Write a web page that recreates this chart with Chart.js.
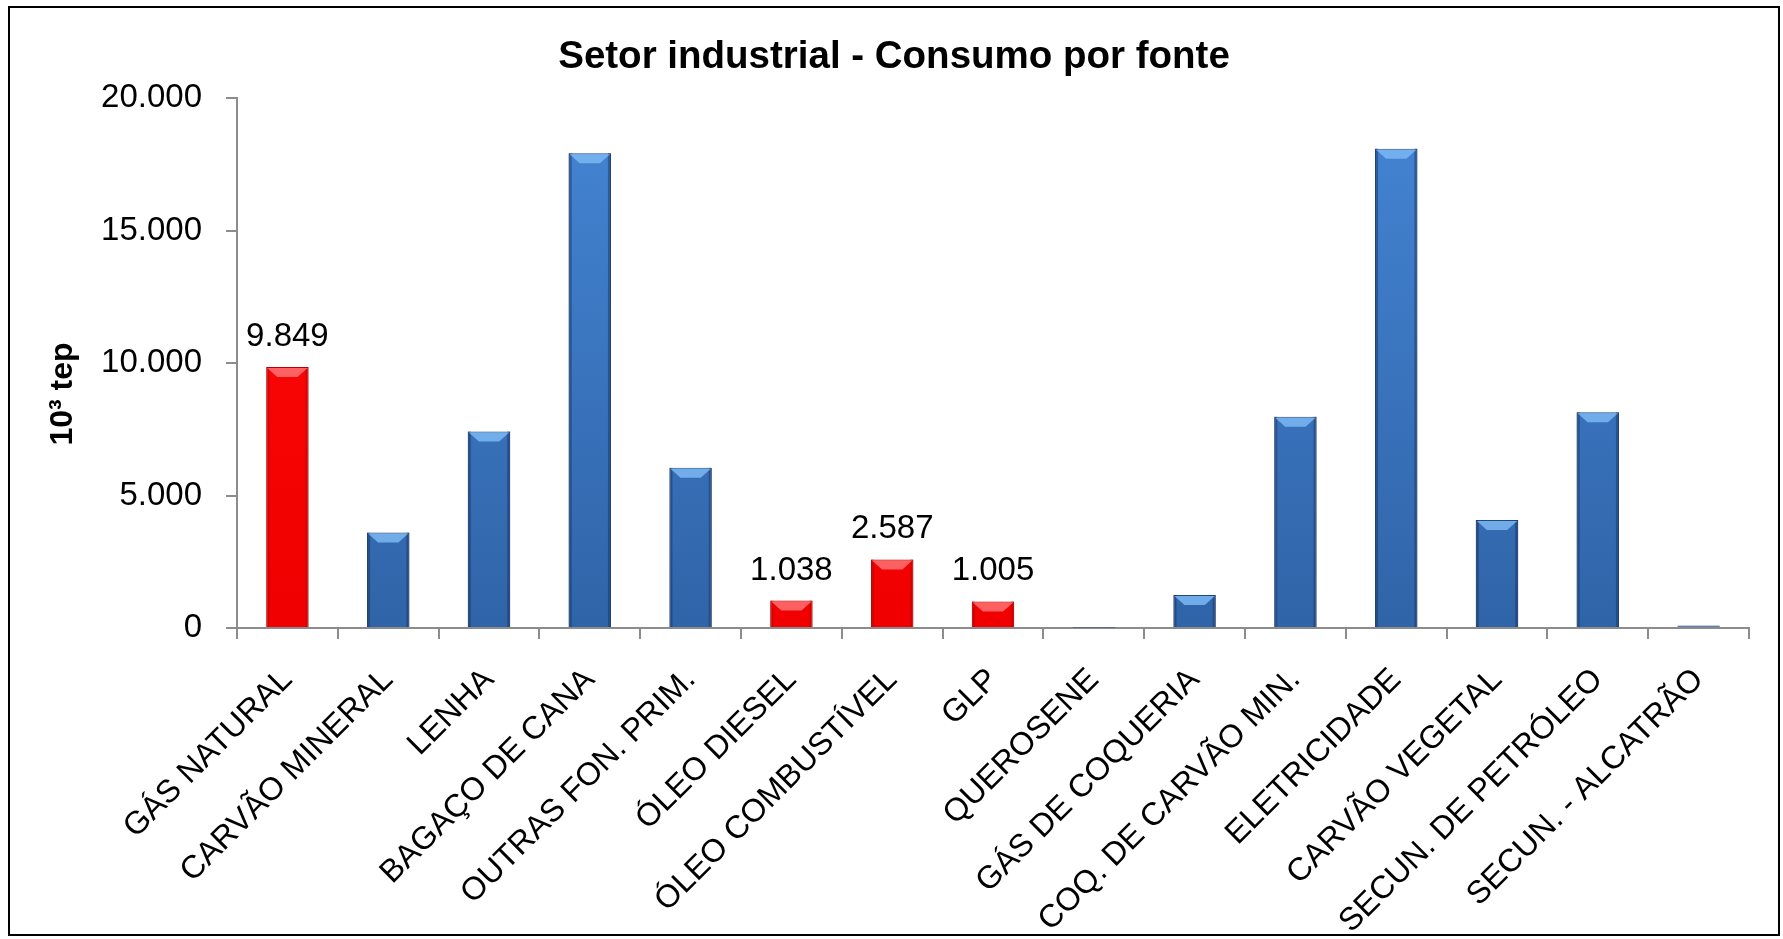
<!DOCTYPE html>
<html>
<head>
<meta charset="utf-8">
<script src="https://cdn.jsdelivr.net/npm/chart.js@4/dist/chart.umd.min.js"></script>
<style>
    html, body { margin: 0; padding: 0; background: #fff; }
    #wrap { position: absolute; left: 8px; top: 6px; width: 1768px; height: 926px; border: 2px solid #000; }
    canvas { display: block; }
</style>
</head>
<body>
<div id="wrap"><canvas id="chart" width="1768" height="926"></canvas></div>
<script>
const categories = ['GÁS NATURAL', 'CARVÃO MINERAL', 'LENHA', 'BAGAÇO DE CANA', 'OUTRAS FON. PRIM.',
    'ÓLEO DIESEL', 'ÓLEO COMBUSTÍVEL', 'GLP', 'QUEROSENE', 'GÁS DE COQUERIA',
    'COQ. DE CARVÃO MIN.', 'ELETRICIDADE', 'CARVÃO VEGETAL', 'SECUN. DE PETRÓLEO', 'SECUN. - ALCATRÃO'];
const consumo = [9849, 3602, 7418, 17925, 6046, 1038, 2587, 1005, 10, 1243, 7976, 18096, 4074, 8147, 90];
// fontes destacadas em vermelho (com rótulo de valor)
const destaque = [true, false, false, false, false, true, true, true, false, false, false, false, false, false, false];
const yTicks = [0, 5000, 10000, 15000, 20000];

const FONT = "'Liberation Sans', Arial, sans-serif";

function fmt(v) {
    return String(v).replace(/\B(?=(\d{3})+(?!\d))/g, '.');
}

function barFill(context) {
    const i = context.dataIndex;
    const area = context.chart.chartArea;
    if (!area) return destaque[i] ? '#ff0000' : '#3a75bf';
    const g = context.chart.ctx.createLinearGradient(0, area.top, 0, area.bottom);
    if (destaque[i]) {
        g.addColorStop(0, '#ff0a0a');
        g.addColorStop(1, '#f00000');
    } else {
        g.addColorStop(0, '#4485d4');
        g.addColorStop(1, '#3064a8');
    }
    return g;
}

const extras = {
    id: 'extras',
    afterDatasetsDraw(chart) {
        const ctx = chart.ctx;
        const meta = chart.getDatasetMeta(0);
        meta.data.forEach((bar, i) => {
            const w = bar.width;
            const left = bar.x - w / 2;
            const top = bar.y;
            const h = bar.base - bar.y;
            ctx.save();
            // bordas laterais escuras
            if (h > 3) {
                ctx.fillStyle = destaque[i] ? 'rgba(160,0,0,0.35)' : 'rgba(20,45,90,0.45)';
                ctx.fillRect(left, top, 3, h);
                ctx.fillRect(left + w - 3, top, 3, h);
            }
            // chanfro no topo
            if (h > 12) {
                const b = 10;
                ctx.fillStyle = destaque[i] ? 'rgba(255,120,120,0.8)' : 'rgba(120,180,240,0.9)';
                ctx.beginPath();
                ctx.moveTo(left + 1, top + 1);
                ctx.lineTo(left + w - 1, top + 1);
                ctx.lineTo(left + w - 1 - b, top + b);
                ctx.lineTo(left + 1 + b, top + b);
                ctx.closePath();
                ctx.fill();
            }
            if (destaque[i]) {
                ctx.fillStyle = '#000';
                ctx.font = '33px ' + FONT;
                ctx.textAlign = 'center';
                ctx.textBaseline = 'alphabetic';
                ctx.fillText(fmt(consumo[i]), bar.x, top - 21);
            }
            ctx.restore();
        });

        // título do eixo Y
        ctx.save();
        ctx.translate(53, 386);
        ctx.rotate(-Math.PI / 2);
        ctx.fillStyle = '#000';
        ctx.font = 'bold 32px ' + FONT;
        ctx.textAlign = 'center';
        ctx.textBaseline = 'middle';
        ctx.fillText('10³ tep', 0, 0);
        ctx.restore();
    }
};

const ctx = document.getElementById('chart').getContext('2d');
new Chart(ctx, {
    type: 'bar',
    data: {
        labels: categories,
        datasets: [{
            data: consumo,
            backgroundColor: barFill,
            borderColor: consumo.map((v, i) => destaque[i] ? '#b80000' : '#23497c'),
            borderWidth: 1,
            categoryPercentage: 1,
            barPercentage: 0.42
        }]
    },
    options: {
        responsive: false,
        animation: false,
        layout: { padding: { left: 29, right: 29, top: 0, bottom: 0 } },
        plugins: {
            legend: { display: false },
            tooltip: { enabled: false },
            title: {
                display: true,
                text: 'Setor industrial - Consumo por fonte',
                color: '#000',
                font: { family: FONT, size: 38.5, weight: 'bold' },
                padding: { top: 26, bottom: 18 }
            }
        },
        scales: {
            x: {
                grid: { display: true, drawOnChartArea: false, drawTicks: true, tickLength: 11, color: '#8c8c8c', lineWidth: 2, offset: true },
                border: { display: true, color: '#8c8c8c', width: 2 },
                ticks: {
                    color: '#000',
                    font: { family: FONT, size: 32 },
                    maxRotation: 45,
                    minRotation: 45,
                    autoSkip: false,
                    padding: 22
                },
                afterFit(scale) { scale.height = 306; }
            },
            y: {
                min: 0,
                max: 20000,
                grid: { display: true, drawOnChartArea: false, drawTicks: true, tickLength: 11, color: '#8c8c8c', lineWidth: 2 },
                border: { display: true, color: '#8c8c8c', width: 2 },
                afterBuildTicks(scale) { scale.ticks = yTicks.map(v => ({ value: v })); },
                ticks: {
                    color: '#000',
                    font: { family: FONT, size: 33 },
                    padding: 24,
                    callback: v => fmt(v)
                },
                afterFit(scale) { scale.width = 198; }
            }
        }
    },
    plugins: [extras]
});
</script>
</body>
</html>
